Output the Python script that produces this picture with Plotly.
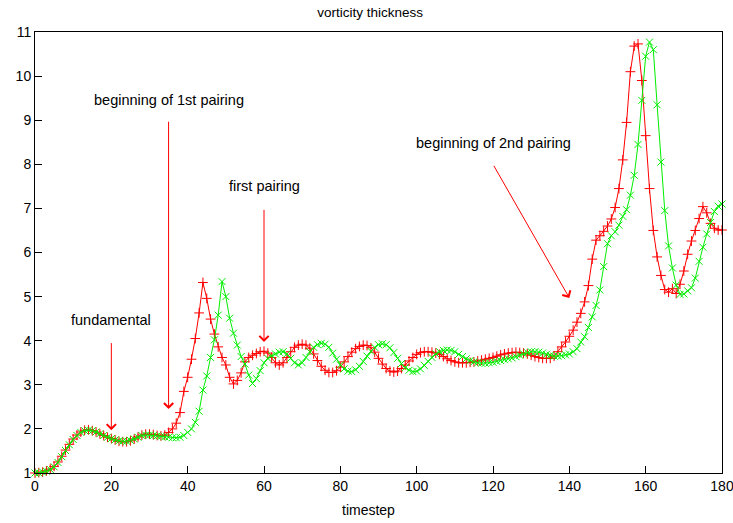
import plotly.graph_objects as go

timestep = list(range(181))

red_series = [
    1.00, 1.01, 1.02, 1.05, 1.09, 1.15, 1.25, 1.38, 1.52, 1.65,
    1.77, 1.86, 1.93, 1.97, 1.98, 1.96, 1.93, 1.89, 1.85, 1.81,
    1.78, 1.75, 1.72, 1.71, 1.71, 1.73, 1.77, 1.82, 1.86, 1.88,
    1.88, 1.87, 1.85, 1.84, 1.86, 1.92, 2.00, 2.13, 2.37, 2.85,
    3.17, 3.58, 4.05, 4.63, 5.32, 4.96, 4.49, 4.15, 3.86, 3.62,
    3.45, 3.17, 3.02, 3.10, 3.27, 3.52, 3.62, 3.67, 3.71, 3.75,
    3.76, 3.72, 3.62, 3.50, 3.45, 3.50, 3.62, 3.75, 3.85, 3.90,
    3.92, 3.90, 3.83, 3.70, 3.55, 3.42, 3.33, 3.28, 3.28, 3.32,
    3.40, 3.52, 3.64, 3.74, 3.82, 3.87, 3.90, 3.89, 3.84, 3.74,
    3.60, 3.47, 3.37, 3.31, 3.29, 3.31, 3.37, 3.45, 3.54, 3.62,
    3.69, 3.73, 3.75, 3.75, 3.74, 3.72, 3.69, 3.64, 3.59, 3.55,
    3.52, 3.50, 3.50, 3.50, 3.51, 3.52, 3.54, 3.56, 3.58, 3.60,
    3.62, 3.65, 3.68, 3.70, 3.72, 3.73, 3.74, 3.73, 3.72, 3.70,
    3.67, 3.64, 3.62, 3.60, 3.60, 3.60, 3.65, 3.75, 3.86, 3.97,
    4.10, 4.24, 4.42, 4.62, 4.88, 5.25, 5.85, 6.28, 6.38, 6.48,
    6.60, 6.76, 7.02, 7.45, 8.10, 8.95, 10.10, 10.68, 10.73, 9.90,
    8.65, 7.45, 6.50, 5.90, 5.48, 5.16, 5.10, 5.18, 5.07, 5.28,
    5.58, 5.96, 6.26, 6.50, 6.77, 7.04, 6.90, 6.66, 6.55, 6.51, 6.51,
]

green_series = [
    1.00, 1.00, 1.02, 1.04, 1.08, 1.14, 1.24, 1.37, 1.51, 1.64,
    1.76, 1.85, 1.92, 1.96, 1.97, 1.96, 1.93, 1.89, 1.85, 1.81,
    1.78, 1.75, 1.73, 1.72, 1.72, 1.74, 1.77, 1.81, 1.85, 1.86,
    1.86, 1.85, 1.84, 1.83, 1.82, 1.81, 1.80, 1.80, 1.81, 1.85,
    1.92, 2.00, 2.15, 2.40, 2.88, 3.20, 3.62, 4.02, 4.58, 5.34,
    5.00, 4.51, 4.17, 3.90, 3.64, 3.47, 3.22, 3.03, 3.14, 3.32,
    3.50, 3.60, 3.66, 3.70, 3.74, 3.75, 3.70, 3.60, 3.50, 3.45,
    3.50, 3.62, 3.75, 3.85, 3.91, 3.94, 3.92, 3.85, 3.72, 3.58,
    3.45, 3.36, 3.31, 3.30, 3.34, 3.42, 3.53, 3.65, 3.76, 3.85,
    3.91, 3.93, 3.91, 3.84, 3.73, 3.60, 3.48, 3.39, 3.33, 3.30,
    3.31, 3.36, 3.44, 3.53, 3.62, 3.70, 3.75, 3.78, 3.79, 3.78,
    3.75, 3.69, 3.64, 3.59, 3.55, 3.52, 3.50, 3.49, 3.49, 3.50,
    3.51, 3.53, 3.55, 3.57, 3.59, 3.61, 3.64, 3.67, 3.70, 3.73,
    3.75, 3.75, 3.74, 3.72, 3.69, 3.67, 3.65, 3.65, 3.66, 3.68,
    3.70, 3.75, 3.82, 3.97, 4.09, 4.30, 4.54, 4.80, 5.15, 5.68,
    6.20, 6.38, 6.47, 6.62, 6.82, 6.97, 7.30, 7.75, 8.45, 9.45,
    10.45, 10.77, 10.60, 9.35, 8.05, 6.95, 6.15, 5.65, 5.26, 5.05,
    5.06, 5.13, 5.20, 5.42, 5.80, 6.12, 6.42, 6.68, 6.93, 7.05, 7.10,
]

x_ticks = [0, 20, 40, 60, 80, 100, 120, 140, 160, 180]
y_ticks = [1, 2, 3, 4, 5, 6, 7, 8, 9, 10, 11]

# labels: (text, x, y)
label_texts = ["fundamental", "beginning of 1st pairing", "first pairing", "beginning of 2nd pairing"]
label_x = [20, 35, 60, 120]
label_y = [4.47, 9.46, 7.5, 8.48]
# arrows: tail (x0,y0) -> head (x1,y1)
arrow_x0 = [20, 35, 60, 120]
arrow_y0 = [3.98, 9.0, 7.0, 8.0]
arrow_x1 = [20, 35, 60, 140]
arrow_y1 = [1.97, 2.45, 3.97, 4.97]

FONT = "Liberation Sans, Arial, Helvetica, sans-serif"

fig = go.Figure()
fig.add_trace(go.Scatter(
    x=timestep, y=red_series, mode="lines+markers",
    line=dict(color="#ff0000", width=1),
    marker=dict(symbol="cross-thin-open", size=7, line=dict(color="#ff0000", width=1)),
    showlegend=False, cliponaxis=False,
))
fig.add_trace(go.Scatter(
    x=timestep, y=green_series, mode="lines+markers",
    line=dict(color="#00ee00", width=1),
    marker=dict(symbol="x-thin-open", size=7, line=dict(color="#00ee00", width=1)),
    showlegend=False, cliponaxis=False,
))

annotations = []
for t, x, y in zip(label_texts, label_x, label_y):
    annotations.append(dict(x=x, y=y, xref="x", yref="y", text=t, showarrow=False,
                            font=dict(family=FONT, size=14.5, color="black")))
for x0, y0, x1, y1 in zip(arrow_x0, arrow_y0, arrow_x1, arrow_y1):
    annotations.append(dict(x=x1, y=y1, ax=x0, ay=y0, xref="x", yref="y", axref="x", ayref="y",
                            text="", showarrow=True, arrowhead=4, arrowsize=1.8,
                            arrowwidth=1, arrowcolor="#ff0000", standoff=0, startstandoff=0))
annotations.append(dict(x=0.486, y=-0.084, xref="paper", yref="paper", text="timestep",
                        showarrow=False, yanchor="middle",
                        font=dict(family=FONT, size=14, color="black")))

fig.update_layout(
    width=733, height=523,
    margin=dict(l=35, r=11, t=32, b=50, autoexpand=False),
    paper_bgcolor="white", plot_bgcolor="white",
    font=dict(family=FONT, size=14, color="black"),
    title=dict(text="vorticity thickness", x=0.505, xref="container", xanchor="center",
               y=0.977, yref="container", yanchor="middle",
               font=dict(family=FONT, size=13.5, color="black")),
    annotations=annotations,
)
fig.update_xaxes(range=[0, 180], tickvals=x_ticks, ticks="inside", ticklen=7, tickcolor="black",
                 showline=True, linecolor="black", linewidth=1, mirror=True, automargin=False,
                 ticklabeloverflow="allow",
                 showgrid=False, zeroline=False, tickfont=dict(family=FONT, size=14))
fig.update_yaxes(range=[1, 11], tickvals=y_ticks, ticks="inside", ticklen=7, tickcolor="black",
                 showline=True, linecolor="black", linewidth=1, mirror=True, automargin=False,
                 ticklabeloverflow="allow",
                 showgrid=False, zeroline=False, tickfont=dict(family=FONT, size=14))

fig.write_html("out.html", config={"displayModeBar": False},
               post_script="document.body.style.margin='0';document.body.style.overflow='hidden';")
